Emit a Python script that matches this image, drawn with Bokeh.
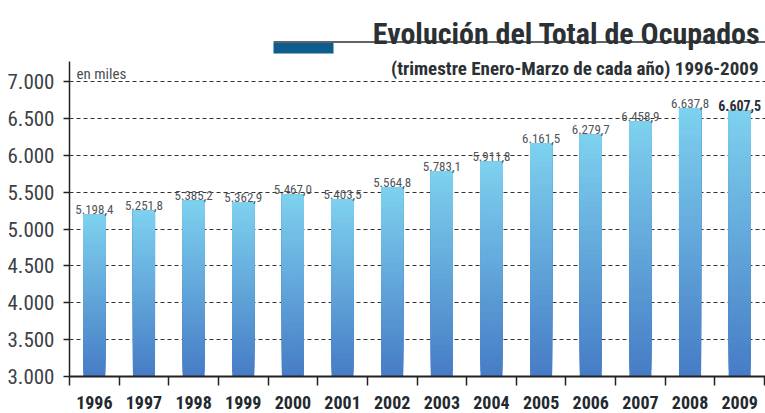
from bokeh.plotting import figure
from bokeh.models import Range1d, FixedTicker
from bokeh.embed import file_html
from bokeh.resources import INLINE
from bokeh.core.properties import value

# ---------------- data ----------------
years = ["1996", "1997", "1998", "1999", "2000", "2001", "2002",
         "2003", "2004", "2005", "2006", "2007", "2008", "2009"]
ocupados = [5198.4, 5251.8, 5385.2, 5362.9, 5467.0, 5403.5, 5564.8,
            5783.1, 5911.8, 6161.5, 6279.7, 6458.9, 6637.8, 6607.5]
y_ticks = [3000, 3500, 4000, 4500, 5000, 5500, 6000, 6500, 7000]
y_tick_labels = ["3.000", "3.500", "4.000", "4.500", "5.000",
                 "5.500", "6.000", "6.500", "7.000"]
title_text = "Evolución del Total de Ocupados"
subtitle_text = "(trimestre Enero-Marzo de cada año) 1996-2009"
unit_text = "en miles"

FONT = "Roboto Condensed"


def es_fmt(v):
    s = f"{v:,.1f}"
    return s.replace(",", "X").replace(".", ",").replace("X", ".")


W, H = 765, 413
LEFT, BOTTOM = 69, 37
FRAME_W = W - LEFT
FRAME_H = H - BOTTOM
Y7000_PX = 81                 # px of the 7000 line
Y0 = 3000
Y1 = Y0 + FRAME_H * 4000.0 / (FRAME_H - Y7000_PX)
X0, X1 = -0.5, 13.52

p = figure(width=W, height=H, output_backend="svg", toolbar_location=None,
           x_range=Range1d(X0, X1), y_range=Range1d(Y0, Y1),
           min_border_left=LEFT, min_border_right=0, min_border_top=0,
           min_border_bottom=BOTTOM)
p.outline_line_color = None
p.background_fill_color = "white"
p.border_fill_color = "white"


def dx(px):
    return X0 + (px - LEFT) / FRAME_W * (X1 - X0)


def dy(py):
    return Y0 + (FRAME_H - py) / FRAME_H * (Y1 - Y0)


# ---------------- grid & axes ----------------
p.xgrid.visible = False
p.ygrid.ticker = FixedTicker(ticks=y_ticks[1:])
p.ygrid.grid_line_color = "#333333"
p.ygrid.grid_line_dash = "4 3"
p.ygrid.grid_line_width = 1

yax = p.yaxis[0]
yax.axis_label = None
yax.axis_label_standoff = 0
yax.ticker = FixedTicker(ticks=y_ticks)
yax.major_label_overrides = {t: l for t, l in zip(y_ticks, y_tick_labels)}
yax.bounds = (3000, dy(61))
yax.axis_line_color = "#222222"
yax.axis_line_width = 1.5
yax.major_tick_line_color = "#222222"
yax.major_tick_line_width = 1.5
yax.major_tick_out = 6
yax.major_tick_in = 0
yax.minor_tick_line_color = None
yax.minor_tick_out = 0
yax.minor_tick_in = 0
yax.major_label_standoff = 9
yax.major_label_text_font = FONT
yax.major_label_text_font_size = "21px"
yax.major_label_text_color = "#3c4146"

idx = list(range(len(years)))
xax = p.xaxis[0]
xax.axis_label = None
xax.axis_label_standoff = 0
xax.ticker = FixedTicker(ticks=idx, minor_ticks=[i - 0.5 for i in range(len(years) + 1)])
xax.major_label_overrides = {i: y for i, y in zip(idx, years)}
xax.axis_line_color = "#222222"
xax.axis_line_width = 2
xax.major_tick_line_color = None
xax.major_tick_out = 0
xax.major_tick_in = 0
xax.minor_tick_line_color = "#222222"
xax.minor_tick_line_width = 1.5
xax.minor_tick_out = 9
xax.minor_tick_in = 0
xax.major_label_standoff = 10
xax.major_label_text_font = FONT
xax.major_label_text_font_style = "bold"
xax.major_label_text_font_size = "18px"
xax.major_label_text_color = "#23292e"

# ---------------- gradient bars ----------------
top_rgb = (126, 209, 239)
bot_rgb = (70, 124, 197)
N = 40
bx, bb, bt, bc = [], [], [], []
for k in range(N):
    f = k / N
    col = tuple(int(round(bot_rgb[c] + (top_rgb[c] - bot_rgb[c]) * (k + 0.5) / N)) for c in range(3))
    hexcol = "#%02x%02x%02x" % col
    for i, v in enumerate(ocupados):
        bx.append(i)
        bb.append(Y0 + (v - Y0) * f)
        bt.append(v)
        bc.append(hexcol)
p.vbar(x=bx, bottom=bb, top=bt, width=0.445, fill_color=bc, line_color=None)

# ---------------- value labels ----------------
val_labels = [es_fmt(v) for v in ocupados]
p.text(x=idx[:-1], y=[v + 65 for v in ocupados[:-1]], text=val_labels[:-1],
       text_font=value(FONT), text_font_size="13px", text_color="#50555a",
       text_align="center", text_baseline="alphabetic")
p.text(x=[idx[-1]], y=[ocupados[-1] + 65], text=[val_labels[-1]],
       text_font=value(FONT), text_font_size="14px", text_font_style="bold",
       text_color="#2b3034", text_align="center", text_baseline="alphabetic")

# ---------------- header decorations ----------------
p.text(x=[dx(760)], y=[dy(33)], text=[title_text], text_font=value(FONT),
       text_font_size="30px", text_font_style="bold", text_color="#2b3034",
       text_align="right", text_baseline="alphabetic")
p.segment(x0=[dx(273)], y0=[dy(41.5)], x1=[dx(765)], y1=[dy(41.5)],
          line_color="#2b3034", line_width=1.5)
p.quad(left=[dx(273)], right=[dx(333)], top=[dy(42.5)], bottom=[dy(53)],
       fill_color="#0d5e8e", line_color=None)
p.text(x=[dx(758)], y=[dy(67.5)], text=[subtitle_text], text_font=value(FONT),
       text_font_size="19px", text_font_style="bold", text_color="#2b3034",
       text_align="right", text_baseline="alphabetic")
p.text(x=[dx(76)], y=[dy(73)], text=[unit_text], text_font=value(FONT),
       text_font_size="15px", text_color="#4a4f54",
       text_align="left", text_baseline="alphabetic")

open("out.html", "w").write(file_html(p, INLINE))
